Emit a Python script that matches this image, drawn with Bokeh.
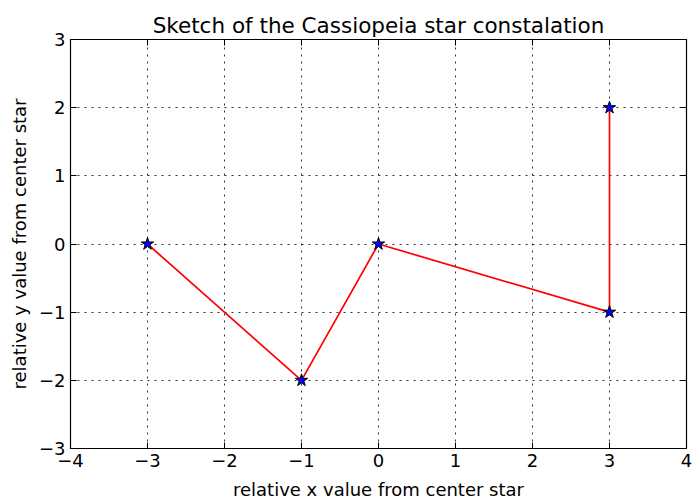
from bokeh.plotting import figure
from bokeh.models import LinearAxis, FixedTicker, Range1d
from bokeh.embed import file_html
from bokeh.resources import INLINE

x_vals = [-3, -1, 0, 3, 3]
y_vals = [0, -2, 0, -1, 2]
x_ticks = [-4, -3, -2, -1, 0, 1, 2, 3, 4]
y_ticks = [-3, -2, -1, 0, 1, 2, 3]

def lab(v):
    return ("\u2212" + str(abs(v))) if v < 0 else str(v)

FONT = "DejaVu Sans"

p = figure(width=692, height=502, output_backend="svg", toolbar_location=None,
           x_range=Range1d(-4, 4), y_range=Range1d(-3, 3),
           min_border_left=70, min_border_right=6, min_border_top=39, min_border_bottom=54,
           title="Sketch of the Cassiopeia star constalation")
p.title.align = "center"
p.title.text_font = FONT
p.title.text_font_size = "21.5px"
p.title.text_font_style = "normal"
p.title.text_color = "black"
p.title.offset = 0
p.title.standoff = 4

p.background_fill_color = "white"
p.border_fill_color = "white"
p.outline_line_color = "black"
p.outline_line_width = 1

def style_axis(ax, ticks):
    ax.ticker = FixedTicker(ticks=ticks)
    ax.major_tick_in = 6
    ax.major_tick_out = 0
    ax.minor_tick_in = 0
    ax.minor_tick_out = 0
    ax.axis_line_color = "black"
    ax.axis_line_width = 1.2
    ax.major_tick_line_color = "black"
    ax.major_tick_line_width = 1
    ax.major_label_text_font = FONT
    ax.major_label_text_font_size = "18px"
    ax.major_label_text_color = "black"
    ax.major_label_overrides = {v: lab(v) for v in ticks}

style_axis(p.xaxis[0], x_ticks)
style_axis(p.yaxis[0], y_ticks)
p.xaxis[0].major_label_standoff = 5
p.yaxis[0].major_label_standoff = 5
p.xaxis[0].axis_label = "relative x value from center star"
p.yaxis[0].axis_label = "relative y value from center star"
for ax in (p.xaxis[0], p.yaxis[0]):
    ax.axis_label_text_font = FONT
    ax.axis_label_text_font_size = "18px"
    ax.axis_label_text_font_style = "normal"
    ax.axis_label_text_color = "black"
p.xaxis[0].axis_label_standoff = 9
p.yaxis[0].axis_label_standoff = 6

top = LinearAxis()
style_axis(top, x_ticks)
top.major_label_text_font_size = "0px"
top.major_label_text_alpha = 0
p.add_layout(top, "above")
right = LinearAxis()
style_axis(right, y_ticks)
right.major_label_text_font_size = "0px"
right.major_label_text_alpha = 0
p.add_layout(right, "right")

p.xgrid.ticker = FixedTicker(ticks=x_ticks)
p.ygrid.ticker = FixedTicker(ticks=y_ticks)
for g in (p.xgrid, p.ygrid):
    g.grid_line_color = "black"
    g.grid_line_width = 1
    g.grid_line_alpha = 0.8
    g.grid_line_dash = "2 5"

p.line(x_vals, y_vals, line_color="red", line_width=1.7)
p.scatter(x_vals, y_vals, marker="star", size=13, fill_color="blue",
          line_color="black", line_width=1)

open("out.html", "w").write(file_html(p, INLINE))
